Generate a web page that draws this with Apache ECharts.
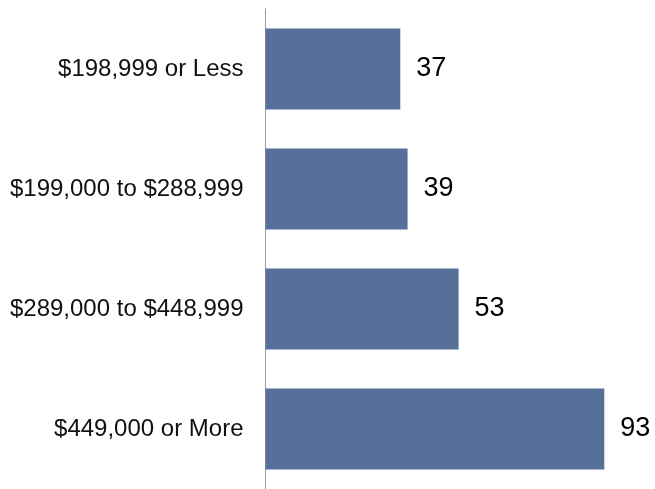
<!DOCTYPE html>
<html>
<head>
<meta charset="utf-8">
<script src="https://cdn.jsdelivr.net/npm/echarts@6/dist/echarts.min.js"></script>
<style>
  html, body { margin: 0; padding: 0; background: #fff; }
  #chart { width: 655px; height: 489px; }
</style>
</head>
<body>
<div id="chart"></div>
<script>
const categories = [
  "$198,999 or Less",
  "$199,000 to $288,999",
  "$289,000 to $448,999",
  "$449,000 or More",
];
const counts = [37, 39, 53, 93];

const barColor = "#56709a";
const fontFamily = "'Liberation Sans', Arial, Helvetica, sans-serif";

const chart = echarts.init(document.getElementById("chart"));
chart.setOption({
  backgroundColor: "#ffffff",
  animation: false,
  grid: { left: 265.5, top: 9, width: 364.3, height: 484, containLabel: false },
  xAxis: {
    type: "value",
    min: 0,
    max: 100,
    show: false,
  },
  yAxis: {
    type: "category",
    data: categories,
    inverse: true,
    axisLine: { show: true, lineStyle: { color: "#9a9a9a", width: 1 } },
    axisTick: { show: false },
    axisLabel: {
      margin: 22,
      color: "#111",
      fontSize: 24,
      fontFamily,
    },
  },
  series: [
    {
      type: "bar",
      data: counts,
      barWidth: 81,
      itemStyle: { color: barColor },
      label: {
        show: true,
        position: "right",
        distance: 16,
        color: "#000",
        fontSize: 27,
        fontFamily,
      },
    },
  ],
});
</script>
</body>
</html>
